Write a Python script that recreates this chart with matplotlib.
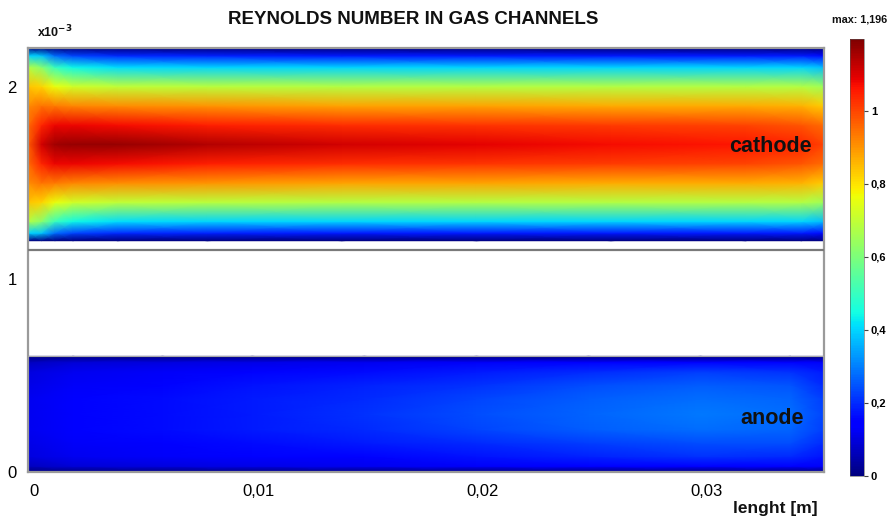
import matplotlib
matplotlib.use('Agg')
import matplotlib.pyplot as plt
import numpy as np
from matplotlib import font_manager as fm
import matplotlib.transforms as mtransforms

# ---------------- data ----------------
# cathode channel: positions along the channel [m] and across it [x1e-3 m]
cathode_x = [0.0, 0.0006, 0.0012, 0.002, 0.004, 0.008, 0.014, 0.020, 0.026, 0.032, 0.0345, 0.0355]
cathode_y = [1.20, 1.24, 1.30, 1.40, 1.50, 1.60, 1.70, 1.80, 1.90, 2.00, 2.10, 2.16, 2.20]
cathode_re = [
    [0.00, 0.00, 0.00, 0.00, 0.00, 0.00, 0.00, 0.00, 0.00, 0.00, 0.00, 0.00],
    [0.40, 0.38, 0.28, 0.23, 0.20, 0.19, 0.18, 0.18, 0.18, 0.18, 0.18, 0.16],
    [0.68, 0.62, 0.50, 0.44, 0.41, 0.40, 0.40, 0.40, 0.40, 0.40, 0.40, 0.37],
    [0.84, 0.82, 0.76, 0.72, 0.70, 0.69, 0.68, 0.68, 0.68, 0.68, 0.68, 0.65],
    [0.91, 0.94, 0.93, 0.92, 0.91, 0.90, 0.88, 0.88, 0.87, 0.87, 0.86, 0.83],
    [0.95, 1.04, 1.08, 1.08, 1.07, 1.05, 1.03, 1.02, 1.01, 1.00, 0.98, 0.95],
    [0.97, 1.11, 1.16, 1.17, 1.17, 1.14, 1.11, 1.09, 1.07, 1.06, 1.04, 1.00],
    [0.95, 1.04, 1.08, 1.08, 1.07, 1.05, 1.03, 1.02, 1.01, 1.00, 0.98, 0.95],
    [0.91, 0.94, 0.93, 0.92, 0.91, 0.90, 0.88, 0.88, 0.87, 0.87, 0.86, 0.83],
    [0.84, 0.82, 0.76, 0.72, 0.70, 0.69, 0.68, 0.68, 0.68, 0.68, 0.68, 0.65],
    [0.68, 0.62, 0.50, 0.44, 0.41, 0.40, 0.40, 0.40, 0.40, 0.40, 0.40, 0.37],
    [0.40, 0.38, 0.28, 0.23, 0.20, 0.19, 0.18, 0.18, 0.18, 0.18, 0.18, 0.16],
    [0.00, 0.00, 0.00, 0.00, 0.00, 0.00, 0.00, 0.00, 0.00, 0.00, 0.00, 0.00],
]

# anode channel
anode_x = [0.0, 0.002, 0.006, 0.010, 0.015, 0.020, 0.025, 0.030, 0.034, 0.0355]
anode_y = [0.00, 0.03, 0.08, 0.15, 0.22, 0.30, 0.38, 0.45, 0.52, 0.57, 0.60]
anode_re = [
    [0.00, 0.00, 0.00, 0.00, 0.00, 0.00, 0.00, 0.00, 0.00, 0.00],
    [0.07, 0.09, 0.10, 0.11, 0.12, 0.13, 0.14, 0.15, 0.15, 0.13],
    [0.10, 0.12, 0.13, 0.14, 0.15, 0.17, 0.19, 0.21, 0.20, 0.17],
    [0.11, 0.13, 0.14, 0.16, 0.18, 0.20, 0.22, 0.24, 0.24, 0.20],
    [0.12, 0.14, 0.16, 0.18, 0.20, 0.23, 0.26, 0.28, 0.27, 0.22],
    [0.12, 0.14, 0.16, 0.18, 0.21, 0.24, 0.27, 0.29, 0.28, 0.23],
    [0.12, 0.14, 0.16, 0.18, 0.20, 0.23, 0.26, 0.28, 0.27, 0.22],
    [0.11, 0.13, 0.15, 0.17, 0.19, 0.21, 0.24, 0.26, 0.25, 0.20],
    [0.10, 0.12, 0.13, 0.15, 0.16, 0.18, 0.20, 0.22, 0.21, 0.18],
    [0.07, 0.09, 0.10, 0.11, 0.12, 0.13, 0.14, 0.15, 0.15, 0.13],
    [0.00, 0.00, 0.00, 0.00, 0.00, 0.00, 0.00, 0.00, 0.00, 0.00],
]

membrane_line_y = 1.15
anode_top_y = 0.60
re_max = 1.196

x_ticks = [0.0, 0.01, 0.02, 0.03]
x_tick_labels = ['0', '0,01', '0,02', '0,03']
y_ticks = [0, 1, 2]
y_tick_labels = ['0', '1', '2']
cbar_ticks = [0.0, 0.2, 0.4, 0.6, 0.8, 1.0]
cbar_tick_labels = ['0', '0,2', '0,4', '0,6', '0,8', '1']

# ---------------- fonts ----------------
def has_font(name):
    try:
        fm.findfont(fm.FontProperties(family=name), fallback_to_default=False)
        return True
    except Exception:
        return False

narrow = 'Liberation Sans Narrow' if has_font('Liberation Sans Narrow') else 'Liberation Sans'
plt.rcParams['font.family'] = ['Liberation Sans', 'DejaVu Sans']

# ---------------- figure ----------------
W, H = 888, 520
fig = plt.figure(figsize=(W / 100, H / 100), dpi=100)
fig.patch.set_facecolor('white')

ax = fig.add_axes([28 / W, (H - 472) / H, (824 - 28) / W, (472 - 48) / H])
cax = fig.add_axes([850 / W, (H - 476) / H, 14 / W, (476 - 39) / H])

cmap = plt.get_cmap('jet')
Xc, Yc = np.meshgrid(cathode_x, cathode_y)
m = ax.pcolormesh(Xc, Yc, np.array(cathode_re), shading='gouraud', cmap=cmap,
                  vmin=0, vmax=re_max, rasterized=True)
Xa, Ya = np.meshgrid(anode_x, anode_y)
ax.pcolormesh(Xa, Ya, np.array(anode_re), shading='gouraud', cmap=cmap,
              vmin=0, vmax=re_max, rasterized=True)

ax.axhline(membrane_line_y, color='#7a7a7a', lw=1.6, zorder=5)
ax.axhline(anode_top_y, color='#a8a8a8', lw=0.8, zorder=5)

ax.set_xlim(0, 0.0355)
ax.set_ylim(0, 2.2)
for s in ax.spines.values():
    s.set_color('#9a9a9a')
    s.set_linewidth(1.6)

ax.set_xticks(x_ticks)
ax.set_xticklabels(x_tick_labels, fontfamily=narrow, fontsize=12)
ax.set_yticks(y_ticks)
ax.set_yticklabels(y_tick_labels, fontfamily=narrow, fontsize=12)
ax.tick_params(axis='both', length=0)
ax.tick_params(axis='x', pad=9)
ax.tick_params(axis='y', pad=8)
offset = mtransforms.ScaledTranslation(6 / 100, 0, fig.dpi_scale_trans)
for lbl in ax.get_xticklabels():
    lbl.set_transform(lbl.get_transform() + offset)

# texts
ax.text(0.0331, 1.69, 'cathode', fontsize=15.5, fontweight='bold',
        ha='center', va='center', color='#111111', zorder=6)
ax.text(0.0332, 0.275, 'anode', fontsize=15.5, fontweight='bold',
        ha='center', va='center', color='#111111', zorder=6)

fig.text(413 / W, 1 - 19 / H, 'REYNOLDS NUMBER IN GAS CHANNELS', fontsize=13.5,
         fontweight='bold', ha='center', va='center', color='#111111')
fig.text(37 / W, 1 - 32 / H, r'x10$^{\mathbf{-3}}$', fontsize=9, fontweight='bold',
         ha='left', va='center', color='#111111')
fig.text(775 / W, 1 - 508 / H, 'lenght [m]', fontsize=12.5, fontweight='bold',
         fontfamily=narrow, ha='center', va='center', color='#111111')
fig.text(832 / W, 1 - 20 / H, 'max: 1,196', fontsize=7.8, fontweight='bold',
         ha='left', va='center', color='#111111')

# colorbar
cb = fig.colorbar(m, cax=cax)
cb.outline.set_linewidth(0.4)
cb.outline.set_edgecolor('#555555')
cb.set_ticks(cbar_ticks)
cb.set_ticklabels(cbar_tick_labels)
cax.tick_params(length=3, width=0.8, color='#444444', pad=2)
for lbl in cax.get_yticklabels():
    lbl.set_fontweight('bold')
    lbl.set_fontsize(8)

fig.savefig('out.png', dpi=100, facecolor='white')
